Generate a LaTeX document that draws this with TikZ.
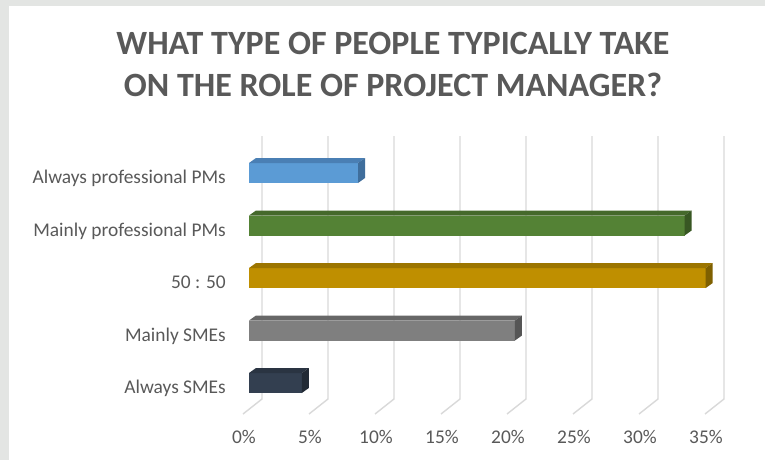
\documentclass[tikz,border=0pt]{standalone}
\usepackage{fontspec}
\setmainfont{Carlito}
\usepackage{xcolor}
\usetikzlibrary{positioning,calc}

\definecolor{framegray}{HTML}{E3E5E3}
\definecolor{gridgray}{HTML}{D9D9D9}
\definecolor{labelgray}{HTML}{595959}
\definecolor{pmblue}{HTML}{5B9BD5}
\definecolor{pmbluetop}{HTML}{4A7FB4}
\definecolor{pmblueside}{HTML}{3F6E9C}
\definecolor{pmgreen}{HTML}{548235}
\definecolor{pmgreentop}{HTML}{45692B}
\definecolor{pmgreenside}{HTML}{385723}
\definecolor{pmgold}{HTML}{BF8F00}
\definecolor{pmgoldtop}{HTML}{9C7500}
\definecolor{pmgoldside}{HTML}{7F6000}
\definecolor{pmgray}{HTML}{7F7F7F}
\definecolor{pmgraytop}{HTML}{676767}
\definecolor{pmgrayside}{HTML}{555555}
\definecolor{pmnavy}{HTML}{333F50}
\definecolor{pmnavytop}{HTML}{2A3442}
\definecolor{pmnavyside}{HTML}{222A35}

\tikzset{
  grid line/.style={gridgray, line width=1.4pt},
  cat label/.style={anchor=base east, text=labelgray, font=\fontsize{19.4}{23}\selectfont, inner sep=0pt},
  tick label/.style={anchor=base, text=labelgray, font=\fontsize{19.4}{23}\selectfont, inner sep=0pt}
}

\begin{document}
\begin{tikzpicture}[x=1pt,y=-1pt]
    \useasboundingbox (0,0) rectangle (765,460);
    \fill[framegray] (0,0) rectangle (765,460);
    \fill[white] (9,6) rectangle (765,460);
    \node[font=\bfseries\fontsize{34}{42}\selectfont, text=labelgray, align=center, inner sep=0pt] (title) at (393,64)
        {WHAT TYPE OF PEOPLE TYPICALLY TAKE\\ON THE ROLE OF PROJECT MANAGER?};
    \foreach \k in {0,...,7} {
        \pgfmathtruncatemacro{\pct}{5*\k}
        \coordinate (gtop\k) at (262+66*\k,136);
        \coordinate (gbot\k) at (262+66*\k,399);
        \coordinate (gfloor\k) at ($(gbot\k)+(-19,15)$);
        \draw[grid line] (gtop\k) -- (gbot\k) -- (gfloor\k);
        \node[tick label] (tick\k) at ($(gbot\k)+(-18,44)$) {\pct\%};
    }
    \foreach \name/\val/\col [count=\i from 0] in {Always professional PMs/8.26/pmblue,
        Mainly professional PMs/33.0/pmgreen, 50 : 50/34.6/pmgold,
        Mainly SMEs/20.15/pmgray, Always SMEs/4.0/pmnavy} {
        \pgfmathsetmacro{\yt}{163+52.5*\i}
        \pgfmathsetmacro{\len}{13.2*\val}
        \fill[\col] (249,\yt) rectangle ++(\len,20);
        \fill[\col top] (249,\yt) -- ++(7,-5) -- ++(\len,0) -- ++(-7,5) -- cycle;
        \fill[\col side] (249+\len,\yt) -- ++(7,-5) -- ++(0,20) -- ++(-7,5) -- cycle;
        \node[cat label] (cat\i) at (226,\yt+20.5) {\name};
    }
\end{tikzpicture}
\end{document}
